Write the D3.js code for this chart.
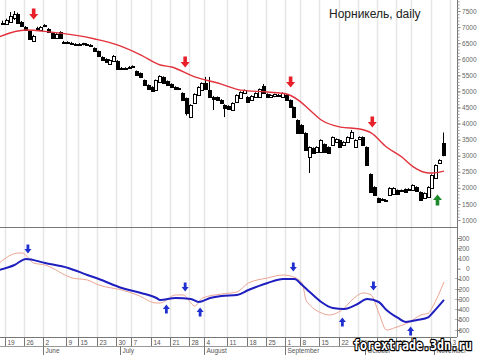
<!DOCTYPE html>
<html>
<head>
<meta charset="utf-8">
<script src="https://cdn.jsdelivr.net/npm/d3@7"></script>
<style>
  body { margin: 0; background: #fff; }
</style>
</head>
<body>
<div id="chart"></div>
<script>
// daily candles (index = trading day)
let opens = [7140,7100,7160,7280,7410,7160,7000,6880,6570,6960,6910,7030,6940,6820,6660,6840,6540,6530,6510,6480,
  6470,6450,6470,6450,6350,6250,6070,6010,5850,5950,5950,5730,5720,5750,5790,5630,5570,5350,5200,5140,
  5040,5290,5450,5320,5230,5140,5100,4950,4790,4200,4640,4890,5040,5260,5040,4830,4820,4740,4580,4550,
  4420,4670,4800,4950,4830,4730,4830,4830,5170,4920,4830,4840,4900,4830,4890,4730,4510,4110,3960,3710,
  2960,3240,3120,3120,3360,3270,3330,3420,3490,3330,3430,3550,3270,3520,3580,3270,2430,2030,1680,1650,
  1620,1780,1810,1930,1930,1960,1960,1930,2030,1870,1680,1720,1990,2310,2790,3390];
let highs = [7200,7260,7470,7500,7450,7190,7030,6900,6760,7010,7030,7090,6970,6840,6810,6870,6570,6560,6540,6500,
  6500,6510,6500,6470,6370,6270,6090,6030,6000,6130,5970,5760,5750,5790,5810,5650,5590,5370,5220,5160,
  5370,5500,5470,5340,5250,5160,5130,4970,4810,4600,4940,5160,5280,5450,5450,4860,4840,4760,4600,4570,
  4660,4910,5000,5060,4850,4880,4970,5090,5230,4940,4910,4930,4920,4970,4910,4750,4530,4130,3980,3730,
  3290,3260,3290,3510,3380,3290,3600,3540,3510,3450,3600,3800,3510,3600,3600,3290,2450,2050,1700,1680,
  1650,2020,2020,1950,1950,1980,1990,2110,2050,1890,1860,2050,2420,2730,2890,3720];
let lows = [7090,7070,7130,7220,7100,7000,6880,6600,6540,6930,6890,7000,6820,6630,6640,6630,6500,6500,6470,6420,
  6440,6430,6440,6410,6240,6080,5960,5890,5830,5930,5680,5700,5690,5730,5760,5490,5430,5180,5050,4990,
  5010,5270,5240,5180,5120,5050,5080,4710,4250,4170,4620,4870,5020,5050,4800,4420,4710,4620,4200,4440,
  4400,4650,4780,4930,4650,4710,4810,4810,4930,4810,4810,4820,4860,4810,4710,4490,4180,3690,3690,3160,
  2460,3060,3100,3100,3100,3060,3310,3400,3250,3310,3410,3530,3250,3500,3310,2690,1850,1760,1540,1620,
  1600,1760,1790,1790,1900,1850,1940,1910,1880,1600,1660,1700,1970,2290,2770,2980];
let closes = [7130,7220,7340,7400,7130,7030,6910,6630,6720,6980,7000,7060,6850,6660,6780,6660,6530,6540,6500,6440,
  6480,6490,6460,6430,6260,6100,5980,5910,5980,6100,5700,5720,5730,5770,5780,5510,5450,5200,5070,5010,
  5350,5480,5260,5200,5140,5070,5110,4730,4330,4580,4920,5140,5260,5070,4830,4760,4730,4640,4490,4460,
  4640,4890,4980,5040,4670,4860,4950,5070,4950,4830,4890,4910,4880,4950,4730,4510,4200,3710,3710,3180,
  3270,3080,3270,3490,3120,3080,3580,3520,3270,3430,3580,3740,3490,3580,3330,2710,1870,1780,1560,1640,
  1630,2000,2000,1810,1920,1870,1970,2090,1900,1620,1840,2030,2400,2710,2870,3020];

// red moving average, read at a few days
let maDay = [-1,6,12,24,30,36,41,44,50,56,62,69,74,77,80,83,88,93,96,100,104,107,111,112,115];
let maValue = [6700,6910,6850,6630,6440,6130,5820,5760,5450,5260,5040,4980,4920,4730,4420,4110,3890,3830,3710,3270,2960,2650,2460,2460,2520];

// oscillator, lower panel
let slowDay = [-1,3,6,11,17,22,25,31,36,40,41,45,49,51,54,57,61,64,69,73,76,78,80,83,86,89,92,95,98,100,103,105,108,111,112,115];
let slowValue = [-13,36,95,55,7,-62,-101,-189,-238,-287,-306,-287,-297,-326,-287,-267,-257,-209,-140,-101,-101,-160,-228,-326,-385,-394,-355,-297,-326,-404,-482,-521,-502,-473,-434,-306];
let fastDay = [-1,4,5,8,11,18,22,25,31,35,40,41,45,47,50,52,57,61,64,69,73,75,78,79,80,83,85,89,91,94,96,98,100,102,106,109,111,112,115];
let fastValue = [55,153,153,55,36,-91,-111,-160,-209,-257,-336,-336,-257,-257,-365,-287,-248,-228,-140,-91,-62,-72,-140,-306,-355,-433,-453,-385,-306,-238,-257,-433,-600,-580,-521,-453,-434,-375,-130];

// signal arrows
let sellDay = [8,47.5,75,96.3];
let sellPrice = [7407,5914,5292,4048];
let buyDay = [113.3];
let buyPrice = [1622];
let oscDownDay = [6.5,47.5,75.7,96.6];
let oscDownValue = [192,-179,16,-169];
let oscUpDay = [42.6,51.4,88.5,106.3];
let oscUpValue = [-394,-424,-521,-609];

// date axis
let weekDay = [1,6,11,17,20,25,30,34,39,44,49,53,59,64,69,74,78,83,88,93,98,103,107,112,117];
let weekLabels = ["19","26","2","9","15","23","30","7","14","21","28","4","11","18","25","1","8","15","22","29","6","13","20","27","3"];
let monthDay = [11,31,53,74,95,113];
let monthLabels = ["June","July","August","September","October","November"];

let priceTicks = d3.range(1000, 7501, 500);
let oscTicks = d3.range(-600, 301, 100);

let width = 480, height = 355, axisX = 457;

let svg = d3.select("#chart").append("svg")
  .attr("width", width)
  .attr("height", height)
  .style("font-family", "'Liberation Sans', Arial, sans-serif");

let x = d3.scaleLinear().domain([0, opens.length - 1]).range([3, 444]);
let y = d3.scaleLinear().domain([1000, 7500]).range([220, 11]);
let yo = d3.scaleLinear().domain([-600, 300]).range([330, 238]);
let sep = (d) => Math.round(x(d - 0.5)) + 0.5;

svg.append("defs").append("clipPath").attr("id", "plot")
  .append("rect").attr("x", 0).attr("y", 0).attr("width", axisX).attr("height", 337);

// vertical week grid
svg.append("g").selectAll("line")
  .data(weekDay).enter().append("line")
  .attr("x1", sep).attr("x2", sep)
  .attr("y1", 0).attr("y2", 337)
  .attr("stroke", "#e6e6e6").attr("stroke-width", 1.5);

// panel frame
svg.append("line").attr("x1", 0).attr("x2", axisX).attr("y1", 227.5).attr("y2", 227.5).attr("stroke", "#777");
svg.append("line").attr("x1", 0).attr("x2", axisX).attr("y1", 337.5).attr("y2", 337.5).attr("stroke", "#777");
svg.append("line").attr("x1", 0).attr("x2", axisX).attr("y1", 346.5).attr("y2", 346.5).attr("stroke", "#999");
svg.append("line").attr("x1", axisX + 0.5).attr("x2", axisX + 0.5).attr("y1", 0).attr("y2", 337).attr("stroke", "#777");

// price axis
let priceAxis = svg.append("g")
  .attr("transform", "translate(" + (axisX + 0.5) + ",0)")
  .call(d3.axisRight(y).tickValues(priceTicks).tickSize(3).tickFormat(d3.format("d")));
priceAxis.select(".domain").remove();
priceAxis.selectAll("line").attr("stroke", "#777");
priceAxis.selectAll("text").attr("x", 19).attr("text-anchor", "end")
  .style("font-size", "6.5px").attr("fill", "#666");
svg.append("g")
  .attr("transform", "translate(" + (axisX + 0.5) + ",0)")
  .call(d3.axisRight(y).tickValues(d3.range(1000, 7801, 100)).tickSize(2).tickFormat(""))
  .call((g) => g.select(".domain").remove())
  .selectAll("line").attr("stroke", "#999");

// oscillator axis
let oscAxis = svg.append("g")
  .attr("transform", "translate(" + (axisX + 0.5) + ",0)")
  .call(d3.axisRight(yo).tickValues(oscTicks).tickSize(3).tickFormat(d3.format("d")));
oscAxis.select(".domain").remove();
oscAxis.selectAll("line").attr("stroke", "#777");
oscAxis.selectAll("text").attr("x", 12).attr("text-anchor", "end")
  .style("font-size", "6.5px").attr("fill", "#666");

// date axis
svg.append("g").selectAll("line")
  .data(weekDay).enter().append("line")
  .attr("x1", sep).attr("x2", sep)
  .attr("y1", 337).attr("y2", 346)
  .attr("stroke", "#777");
svg.append("g").selectAll("text")
  .data(weekDay).enter().append("text")
  .attr("x", (d) => sep(d) + 2)
  .attr("y", 344.5)
  .style("font-size", "6.5px")
  .attr("fill", "#555")
  .text((d, i) => weekLabels[i]);
svg.append("g").selectAll("line")
  .data(monthDay).enter().append("line")
  .attr("x1", sep).attr("x2", sep)
  .attr("y1", 346).attr("y2", 355)
  .attr("stroke", "#777");
svg.append("g").selectAll("text")
  .data(monthDay).enter().append("text")
  .attr("x", (d) => sep(d) + 2)
  .attr("y", 353)
  .style("font-size", "6.5px")
  .attr("fill", "#555")
  .text((d, i) => monthLabels[i]);

// candles
let candles = svg.append("g").attr("clip-path", "url(#plot)");
let cx = (i) => Math.round(x(i));

candles.selectAll(".wick")
  .data(opens).enter().append("line")
  .attr("class", "wick")
  .attr("x1", (d, i) => cx(i) - 0.5)
  .attr("x2", (d, i) => cx(i) - 0.5)
  .attr("y1", (d, i) => y(highs[i]))
  .attr("y2", (d, i) => y(lows[i]))
  .attr("stroke", "#000");

candles.selectAll(".body")
  .data(opens).enter().append("rect")
  .attr("class", "body")
  .attr("x", (d, i) => cx(i) - 1.5)
  .attr("width", 3)
  .attr("y", (d, i) => Math.round(y(Math.max(d, closes[i]))) + 0.5)
  .attr("height", (d, i) => Math.max(1, Math.round(Math.abs(y(d) - y(closes[i])))))
  .attr("fill", (d, i) => closes[i] >= d ? "#fff" : "#000")
  .attr("stroke", "#000")
  .attr("stroke-width", 1);

// moving average
svg.append("path")
  .datum(maDay)
  .attr("clip-path", "url(#plot)")
  .attr("fill", "none")
  .attr("stroke", "#e2323c")
  .attr("stroke-width", 1.4)
  .attr("d", d3.line().curve(d3.curveMonotoneX)
    .x((d) => x(d)).y((d, i) => y(maValue[i])));

// oscillator lines
svg.append("path")
  .datum(fastDay)
  .attr("clip-path", "url(#plot)")
  .attr("fill", "none")
  .attr("stroke", "#eba592")
  .attr("stroke-width", 1)
  .attr("d", d3.line().curve(d3.curveMonotoneX)
    .x((d) => x(d)).y((d, i) => yo(fastValue[i])));

svg.append("path")
  .datum(slowDay)
  .attr("clip-path", "url(#plot)")
  .attr("fill", "none")
  .attr("stroke", "#1f1fbf")
  .attr("stroke-width", 2)
  .attr("d", d3.line().curve(d3.curveMonotoneX)
    .x((d) => x(d)).y((d, i) => yo(slowValue[i])));

// arrows
function arrow(w, h, down) {
  let s = w * 0.2, k = down ? 1 : -1;
  return "M" + (-s) + "," + (-h / 2 * k) + "L" + s + "," + (-h / 2 * k) +
    "L" + s + ",0L" + (w / 2) + ",0L0," + (h / 2 * k) + "L" + (-w / 2) + ",0L" + (-s) + ",0Z";
}

function arrows(days, vals, scale, w, h, down, color) {
  svg.append("g").selectAll("path")
    .data(days).enter().append("path")
    .attr("transform", (d, i) => "translate(" + x(d) + "," + scale(vals[i]) + ")")
    .attr("d", arrow(w, h, down))
    .attr("fill", color);
}

arrows(sellDay, sellPrice, y, 9, 11, true, "#e8202a");
arrows(buyDay, buyPrice, y, 9, 11, false, "#1c8a2a");
arrows(oscDownDay, oscDownValue, yo, 7, 9, true, "#1f2fd0");
arrows(oscUpDay, oscUpValue, yo, 7, 9, false, "#1f2fd0");

// title
svg.append("text")
  .attr("x", 329)
  .attr("y", 18)
  .style("font-size", "12px")
  .attr("fill", "#222")
  .text("Норникель, daily");

// watermark
svg.append("text")
  .attr("x", 353)
  .attr("y", 350)
  .style("font-family", "'DejaVu Sans Mono', monospace")
  .style("font-weight", "bold")
  .style("font-size", "13.5px")
  .attr("textLength", 119)
  .attr("lengthAdjust", "spacingAndGlyphs")
  .attr("fill", "#fff")
  .attr("stroke", "#000")
  .attr("stroke-width", 2.5)
  .attr("stroke-linejoin", "round")
  .attr("paint-order", "stroke")
  .text("forextrade.3dn.ru");
</script>
</body>
</html>
